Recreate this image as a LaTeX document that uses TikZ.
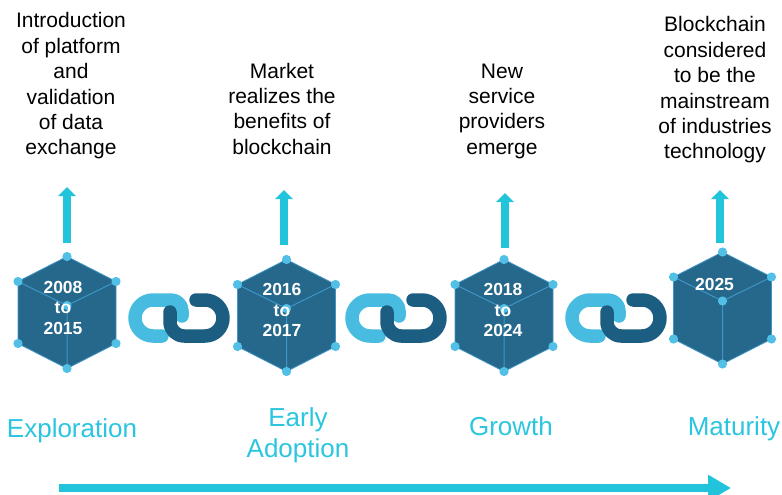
\documentclass[tikz,border=0pt]{standalone}
\usepackage{fontspec}
\setmainfont{Liberation Sans}
\usetikzlibrary{arrows.meta}
\definecolor{cubefill}{HTML}{25688B}
\definecolor{cubeedge}{HTML}{3F95C6}
\definecolor{dotcol}{HTML}{52BFE6}
\definecolor{linklight}{HTML}{48BCE0}
\definecolor{linkdark}{HTML}{1C5E82}
\definecolor{arrowcol}{HTML}{22C4DC}
\definecolor{phasecol}{HTML}{2BC5DF}
\newcommand\ml[1]{\begin{tabular}[t]{@{}c@{}}#1\end{tabular}}
\newcommand\drawcube[3]{%
  \begin{scope}[shift={(#2,#3)}]
    \coordinate (#1t) at (0,0);
    \coordinate (#1ul) at (-49,25);
    \coordinate (#1ur) at (49,25);
    \coordinate (#1ll) at (-49,87);
    \coordinate (#1lr) at (49,87);
    \coordinate (#1b) at (0,112);
    \coordinate (#1c) at (0,49);
    \fill[cubefill] (#1t) -- (#1ur) -- (#1lr) -- (#1b) -- (#1ll) -- (#1ul) -- cycle;
    \draw[cubeedgeline] (#1t) -- (#1ur) -- (#1lr) -- (#1b) -- (#1ll) -- (#1ul) -- cycle;
    \draw[cubeinner] (#1ul) -- (#1c) -- (#1ur) (#1c) -- (#1b);
    \foreach \p in {t,ul,ur,ll,lr,b,c} \fill[dotcol] (#1\p) circle (4.6pt);
  \end{scope}}
\newcommand\drawchain[2]{%
  \begin{scope}[shift={(#2,0)}]
    \coordinate (#1a) at (162,336);
    \coordinate (#1b) at (170,312);
    \draw[linkstroke, linklight] (#1a) -- (153,336)
      arc[start angle=270, end angle=90, radius=18pt] -- (171,300)
      arc[start angle=90, end angle=0, radius=11pt] -- (182,316);
    \draw[linkstroke, linkdark] (#1b) -- (170,322)
      arc[start angle=180, end angle=270, radius=14pt] -- (205,336)
      arc[start angle=270, end angle=450, radius=18pt] -- (196,300);
  \end{scope}}
\begin{document}
\begin{tikzpicture}[x=1pt,y=-1pt,
  cubeedgeline/.style={draw=cubeedge, line width=0.8pt, line join=round},
  cubeinner/.style={draw=cubeedge, line width=1pt},
  linkstroke/.style={line width=13.5pt, line cap=round, line join=round},
  uparrow/.style={draw=arrowcol, line width=7.5pt, -{Triangle[width=17pt,length=9pt]}},
  timearrow/.style={draw=arrowcol, line width=8pt, -{Triangle[width=25pt,length=23pt]}},
  toptext/.style={inner sep=0pt, anchor=base, font=\fontsize{21}{25.4}\selectfont, text=black},
  phase/.style={inner sep=0pt, anchor=base, font=\fontsize{26}{31}\selectfont, text=phasecol},
  year/.style={inner sep=0pt, anchor=base, font=\bfseries\fontsize{17.5}{20.5}\selectfont, text=white}]
\useasboundingbox (0,0) rectangle (782,495);

% cubes
\drawcube{ca}{67}{256.5}
\drawcube{cb}{286.5}{259.5}
\drawcube{cc}{504}{259.5}
\drawcube{cd}{722.5}{252}

% chains
\drawchain{la}{0}
\drawchain{lb}{217}
\drawchain{lc}{437}

% year labels
\node[year] (ya) at (63,293) {\ml{2008\\to\\2015}};
\node[year] (yb) at (282,295.5) {\ml{2016\\to\\2017}};
\node[year] (yc) at (503,295.5) {\ml{2018\\to\\2024}};
\node[year] (yd) at (714.5,290) {2025};

% top texts
\node[toptext] (ta) at (71,28) {\ml{Introduction\\of platform\\and\\validation\\of data\\exchange}};
\node[toptext] (tb) at (282,78) {\ml{Market\\realizes the\\benefits of\\blockchain}};
\node[toptext] (tc) at (502,78) {\ml{New\\service\\providers\\emerge}};
\node[toptext] (td) at (715,32) {\ml{Blockchain\\considered\\to be the\\mainstream\\of industries\\technology}};

% up arrows
\coordinate (aas) at (67,243);  \coordinate (aae) at (67,187);
\coordinate (abs) at (284,245); \coordinate (abe) at (284,190);
\coordinate (acs) at (505,248); \coordinate (ace) at (505,193);
\coordinate (ads) at (720,243); \coordinate (ade) at (720,190);
\draw[uparrow] (aas) -- (aae);
\draw[uparrow] (abs) -- (abe);
\draw[uparrow] (acs) -- (ace);
\draw[uparrow] (ads) -- (ade);

% phase labels
\node[phase] (pa) at (72,437) {Exploration};
\node[phase] (pb) at (298,426) {\ml{Early\\Adoption}};
\node[phase] (pc) at (511,435) {Growth};
\node[phase] (pd) at (734,435) {Maturity};

% timeline arrow
\coordinate (tls) at (59,488);
\coordinate (tle) at (731,488);
\draw[timearrow] (tls) -- (tle);
\end{tikzpicture}
\end{document}
